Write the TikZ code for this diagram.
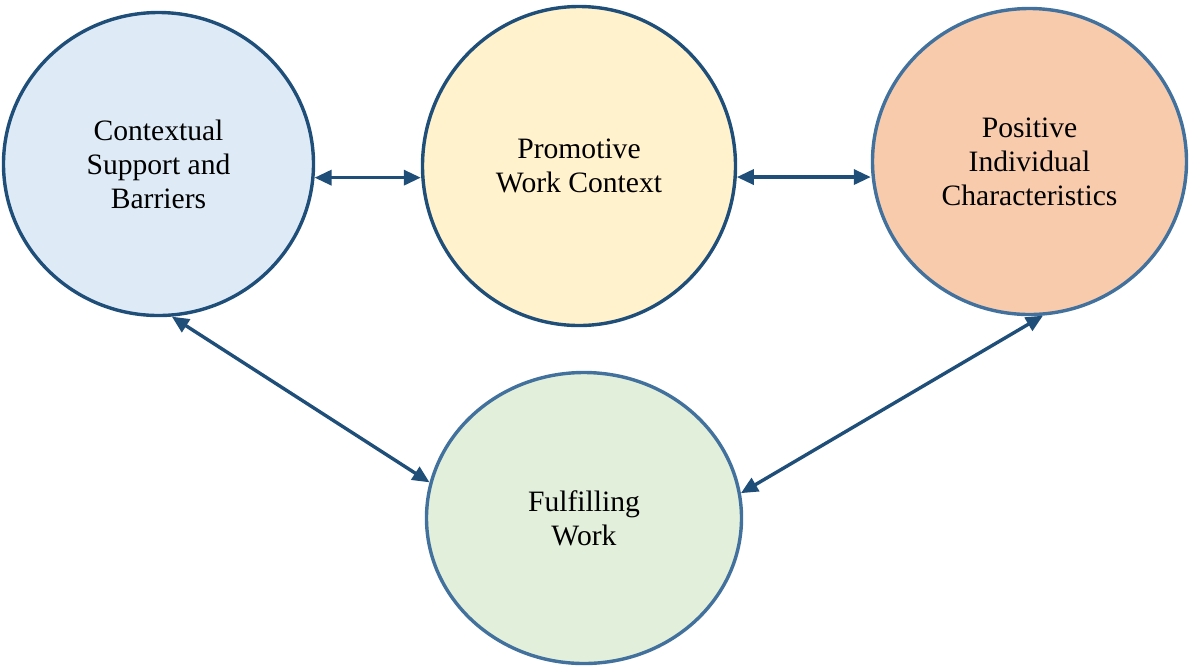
\documentclass[tikz,border=0pt]{standalone}
\usepackage{fontspec}
\setmainfont{Liberation Serif}
\usetikzlibrary{shapes.geometric,arrows.meta}
\definecolor{navy}{HTML}{1F4E79}
\definecolor{steel}{HTML}{41719C}
\definecolor{fillblue}{HTML}{DEEBF7}
\definecolor{fillyellow}{HTML}{FFF2CC}
\definecolor{fillorange}{HTML}{F8CBAD}
\definecolor{fillgreen}{HTML}{E2EFDA}
\tikzset{
  bubble/.style={ellipse, line width=1.7pt, inner sep=0pt, align=center,
    text=black, font=\fontsize{14.8}{17}\selectfont},
  darkrim/.style={bubble, draw=navy},
  lightrim/.style={bubble, draw=steel},
  link/.style={navy, line width=1.7pt, {Triangle[length=8.5pt,width=7.5pt]}-{Triangle[length=8.5pt,width=7.5pt]}}
}
\begin{document}
\begin{tikzpicture}[x=0.5pt,y=-0.5pt]
\useasboundingbox (0,0) rectangle (1189,666);

\node[darkrim, fill=fillblue, minimum width=155pt, minimum height=151.5pt]
  (ctx) at (158.5,164) {Contextual\\Support and\\Barriers};
\node[darkrim, fill=fillyellow, minimum width=156.5pt, minimum height=159.5pt]
  (pwc) at (579,166) {Promotive\\Work Context};
\node[lightrim, fill=fillorange, minimum width=157pt, minimum height=153pt]
  (pic) at (1029.5,161.5) {Positive\\Individual\\Characteristics};
\node[lightrim, fill=fillgreen, minimum width=157.5pt, minimum height=145.5pt]
  (fw) at (584,518) {Fulfilling\\Work};

% horizontal links run level, at the height of their left end
\draw[link] (ctx.-5.4) -- (ctx.-5.4 -| pwc.west);
\draw[link] (pwc.-4.7) -- (pwc.-4.7 -| pic.west);
\draw[link] (ctx.-85.7) -- (fw.167.4);
\draw[link] (pic.-85.7) -- (fw.9.3);
\end{tikzpicture}
\end{document}
